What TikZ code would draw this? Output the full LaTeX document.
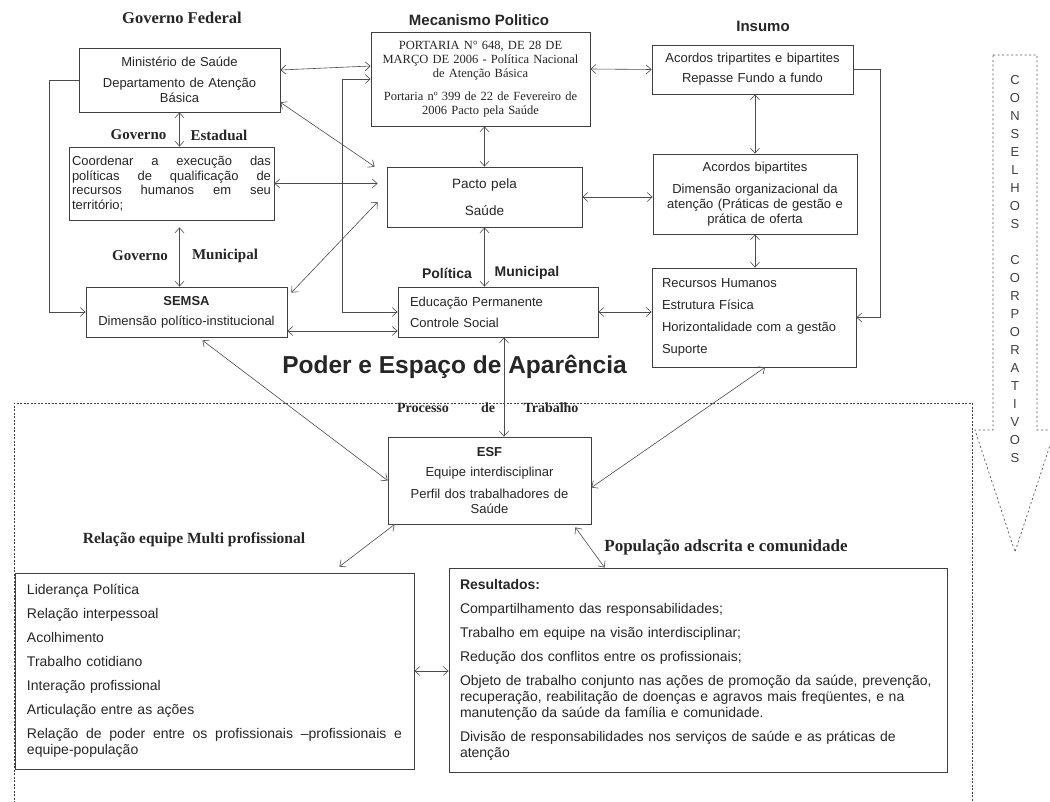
\documentclass[tikz,border=0pt]{standalone}
\usepackage{fontspec}
\setmainfont{Liberation Sans}
\newfontfamily\serifa{Liberation Serif}
\usetikzlibrary{arrows.meta,calc}
\tikzset{
>={Straight Barb[length=5pt,width=9pt]},
caixa/.style={draw=black!75,line width=0.8pt,inner sep=0pt,align=center,text=black!85,font=\fontsize{13}{15}\selectfont},
seta/.style={<->,draw=black!70,line width=0.6pt},
setaum/.style={->,draw=black!70,line width=0.6pt},
nivel/.style={text=black!85,font=\serifa\bfseries\fontsize{15}{17}\selectfont},
rotulo/.style={text=black!85,font=\bfseries\fontsize{15}{17}\selectfont},
tracejado/.style={draw=black!75,line width=0.9pt,dash pattern=on 2pt off 1.5pt}}

\begin{document}
\begin{tikzpicture}[x=1pt,y=-1pt]
\useasboundingbox (0,0) rectangle (1050,802);
\clip (0,0) rectangle (1050,802);
\fill[white] (0,0) rectangle (1050,802);

% titulos
\node[nivel,font=\serifa\bfseries\fontsize{16.5}{18}\selectfont] (gfed) at (182,18) {Governo Federal};
\node[rotulo] (mecan) at (479,20) {Mecanismo Politico};
\node[rotulo] (insumo) at (763,26) {Insumo};

% coluna dos governos
\node[caixa,minimum width=201,minimum height=64,text width=191] (ms) at (179.5,80) {Ministério de Saúde\\[6pt]Departamento de Atenção\\Básica};
\node[caixa,minimum width=205,minimum height=73,text width=199,align=left,font=\fontsize{13}{14.5}\selectfont] (coord) at (171.5,183.5) {Coordenar\hfill a\hfill execução\hfill das\\políticas\hfill de\hfill qualificação\hfill de\\recursos\hfill humanos\hfill em\hfill seu\\território;};
\node[caixa,minimum width=201,minimum height=50,text width=191] (semsa) at (186.5,312) {\textbf{SEMSA}\\[5pt]Dimensão político-institucional};
\node[nivel] (gov1) at (138.5,135) {Governo};
\node[nivel] (est) at (219,135) {Estadual};
\node[nivel] (gov2) at (140,256) {Governo};
\node[nivel] (mun1) at (225,256) {Municipal};

% coluna do meio
\node[caixa,minimum width=219,minimum height=94,text width=211,font=\serifa\fontsize{12.5}{14}\selectfont] (port) at (480.5,79) {PORTARIA N° 648, DE 28 DE\\MARÇO DE 2006 - Política Nacional\\de Atenção Básica\\[9pt]Portaria nº 399 de 22 de Fevereiro de\\2006 Pacto pela Saúde};
\node[caixa,minimum width=195,minimum height=60,text width=185,font=\fontsize{13.5}{15}\selectfont] (pacto) at (484.5,197) {Pacto pela\\[12pt]Saúde};
\node[caixa,minimum width=200,minimum height=50,text width=176,align=left] (edu) at (498,312) {Educação Permanente\\[6pt]Controle Social};
\node[rotulo,font=\bfseries\fontsize{14}{16}\selectfont] (pol) at (447,273) {Política};
\node[rotulo,font=\bfseries\fontsize{14}{16}\selectfont] (mun2) at (527,273) {Municipal};

% coluna do insumo
\node[caixa,minimum width=201,minimum height=49,text width=191] (trip) at (752.5,69.5) {Acordos tripartites e bipartites\\[5pt]Repasse Fundo a fundo};
\node[caixa,minimum width=204,minimum height=80,text width=194] (bip) at (755,194) {Acordos bipartites\\[7pt]Dimensão organizacional da\\atenção (Práticas de gestão e\\prática de oferta};
\node[caixa,minimum width=204,minimum height=99,text width=184,align=left] (rec) at (754,317.5) {Recursos Humanos\\[7pt]Estrutura Física\\[7pt]Horizontalidade com a gestão\\[7pt]Suporte};

\node[rotulo,font=\bfseries\fontsize{24.5}{28}\selectfont] (poder) at (454.5,367) {Poder e Espaço de Aparência};

% processo de trabalho
\draw[tracejado] (14,810) -- (14,403) -- (972,403) -- (972,810);
\node[nivel,font=\serifa\bfseries\fontsize{14}{16}\selectfont] (proc) at (423,408) {Processo};
\node[nivel,font=\serifa\bfseries\fontsize{14}{16}\selectfont] (de) at (488,408) {de};
\node[nivel,font=\serifa\bfseries\fontsize{14}{16}\selectfont] (trab) at (551,408) {Trabalho};
\node[caixa,minimum width=203,minimum height=87,text width=193] (esf) at (489.5,480.5) {\textbf{ESF}\\[5pt]Equipe interdisciplinar\\[7pt]Perfil dos trabalhadores de\\Saúde};
\node[nivel,font=\serifa\bfseries\fontsize{15.5}{17}\selectfont] (releq) at (194,540) {Relação equipe Multi profissional};
\node[nivel,font=\serifa\bfseries\fontsize{17}{19}\selectfont] (pop) at (726,547) {População adscrita e comunidade};
\node[caixa,minimum width=399,minimum height=196,text width=375,align=left,font=\fontsize{14}{16}\selectfont] (rel) at (214.5,671) {Liderança Política\\[8pt]Relação interpessoal\\[8pt]Acolhimento\\[8pt]Trabalho cotidiano\\[8pt]Interação profissional\\[8pt]Articulação entre as ações\\[8pt]Relação\hfill de\hfill poder\hfill entre\hfill os\hfill profissionais\hfill –profissionais\hfill e\\equipe-população};
\node[caixa,minimum width=498,minimum height=204,text width=476,align=left,font=\fontsize{14}{16}\selectfont] (res) at (698,670) {\textbf{Resultados:}\\[8pt]Compartilhamento das responsabilidades;\\[8pt]Trabalho em equipe na visão interdisciplinar;\\[8pt]Redução dos conflitos entre os profissionais;\\[8pt]Objeto de trabalho conjunto nas ações de promoção da saúde, prevenção,\\recuperação, reabilitação de doenças e agravos mais freqüentes, e na\\manutenção da saúde da família e comunidade.\\[8pt]Divisão de responsabilidades nos serviços de saúde e as práticas de\\atenção};

% conselhos corporativos
\draw[draw=black!65,line width=0.7pt,dash pattern=on 2pt off 2.5pt] (993,55) -- (1037,55) -- (1037,430) -- (1055,430) -- (1015,552) -- (975,430) -- (993,430) -- cycle;
\node[align=center,text=black!75,font=\fontsize{13}{18}\selectfont] (cons) at (1015,269) {C\\O\\N\\S\\E\\L\\H\\O\\S\\[18pt]C\\O\\R\\P\\O\\R\\A\\T\\I\\V\\O\\S};

% conectores
\draw[seta] (ms.south) -- (ms.south |- coord.north);
\draw[seta,shorten <=7pt] (ms.south |- coord.south) -- (ms.south |- semsa.north);
\draw[seta] ([yshift=10]ms.east) -- ([yshift=13]port.west);
\draw[setaum] (ms.west) -- ++(-29,0) |- (semsa.west);
\draw[seta] (port.west) -- ++(-28,0) |- (edu.west);
\draw[seta] ([yshift=10]ms.south east) -- ([xshift=-12]pacto.north west);
\draw[seta,shorten >=9pt] (coord.east) -- (coord.east -| pacto.west);
\draw[seta] ([xshift=4,yshift=-6]semsa.north east) -- ([xshift=-9,yshift=-5]pacto.west);
\draw[seta] ([yshift=-19]semsa.east) -- ([yshift=-19]edu.west);
\draw[seta] ([yshift=10]port.east) -- (trip.west);
\draw[seta] (port.south -| pacto.north) -- (pacto.north);
\draw[seta] (pacto.east) -- (pacto.east -| bip.west);
\draw[seta] (pacto.south) -- (pacto.south |- edu.north);
\draw[seta] (edu.east) -- (edu.east -| rec.west);
\draw[seta] (bip.north |- trip.south) -- (bip.north);
\draw[seta] (bip.south) -- (bip.south |- rec.north);
\draw[setaum] (trip.east) -- ++(27,0) |- (rec.east);
\coordinate (eb) at ([xshift=6]edu.south);
\draw[seta] (eb) -- (eb |- esf.north);
\draw[seta] ([xshift=16,yshift=-3]semsa.south) -- (esf.west);
\draw[seta] ([xshift=11]rec.south) -- ([yshift=-7]esf.east);
\draw[seta] ([xshift=7]esf.south west) -- ([xshift=-75,yshift=6]rel.north east);
\draw[seta] ([xshift=-16,yshift=-3]esf.south east) -- ([xshift=156]res.north west);
\draw[seta] (rel.east) -- (rel.east -| res.west);

\end{tikzpicture}
\end{document}
